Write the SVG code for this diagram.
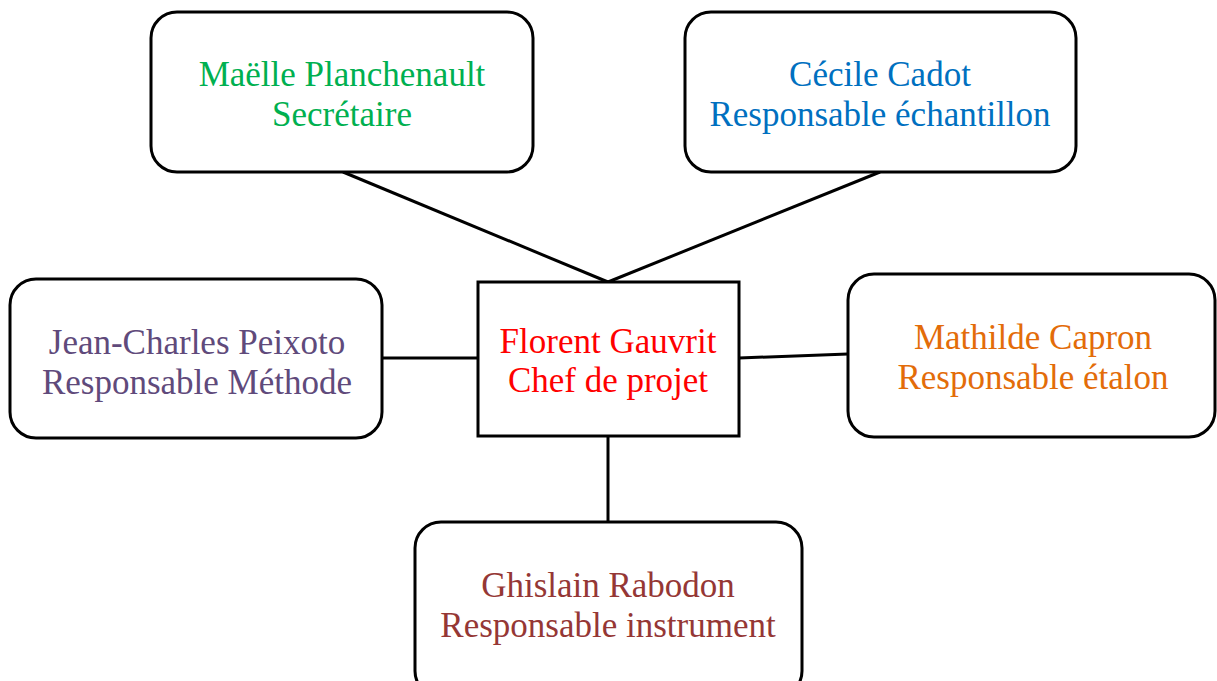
<svg xmlns="http://www.w3.org/2000/svg" width="1217" height="681" viewBox="0 0 1217 681">
<style>
.box{fill:#fff;stroke:#000;stroke-width:3}
.ln{stroke:#000;stroke-width:3;fill:none}
text{font-family:"Liberation Serif","Times New Roman",serif;font-size:35px;text-anchor:middle}
</style>
<rect width="1217" height="681" fill="#fff"/>
<g id="connectors">
<line class="ln" x1="343" y1="172" x2="608" y2="282"/>
<line class="ln" x1="880" y1="172" x2="608" y2="282"/>
<line class="ln" x1="382" y1="358" x2="477" y2="358"/>
<line class="ln" x1="739" y1="358" x2="848" y2="354"/>
<line class="ln" x1="608" y1="436" x2="608" y2="522"/>
</g>
<g id="secretaire">
<rect class="box" x="151" y="12" width="382" height="160" rx="26"/>
<text x="342" y="86" fill="#00B050">Maëlle Planchenault</text>
<text x="342" y="126" fill="#00B050">Secrétaire</text>
</g>
<g id="echantillon">
<rect class="box" x="685" y="12" width="391" height="160" rx="26"/>
<text x="880" y="86" fill="#0070C0">Cécile Cadot</text>
<text x="880" y="126" fill="#0070C0">Responsable échantillon</text>
</g>
<g id="methode">
<rect class="box" x="10" y="279" width="372" height="159" rx="26"/>
<text x="197" y="354" fill="#604A7B">Jean-Charles Peixoto</text>
<text x="197" y="394" fill="#604A7B">Responsable Méthode</text>
</g>
<g id="chef">
<rect class="box" x="478" y="282" width="261" height="154"/>
<text x="608" y="353" fill="#FF0000">Florent Gauvrit</text>
<text x="608" y="392" fill="#FF0000">Chef de projet</text>
</g>
<g id="etalon">
<rect class="box" x="848" y="274" width="367" height="163" rx="26"/>
<text x="1033" y="349" fill="#E36C09">Mathilde Capron</text>
<text x="1033" y="389" fill="#E36C09">Responsable étalon</text>
</g>
<g id="instrument">
<rect class="box" x="415" y="522" width="387" height="175" rx="26"/>
<text x="608" y="597" fill="#953735">Ghislain Rabodon</text>
<text x="608" y="637" fill="#953735">Responsable instrument</text>
</g>
</svg>
